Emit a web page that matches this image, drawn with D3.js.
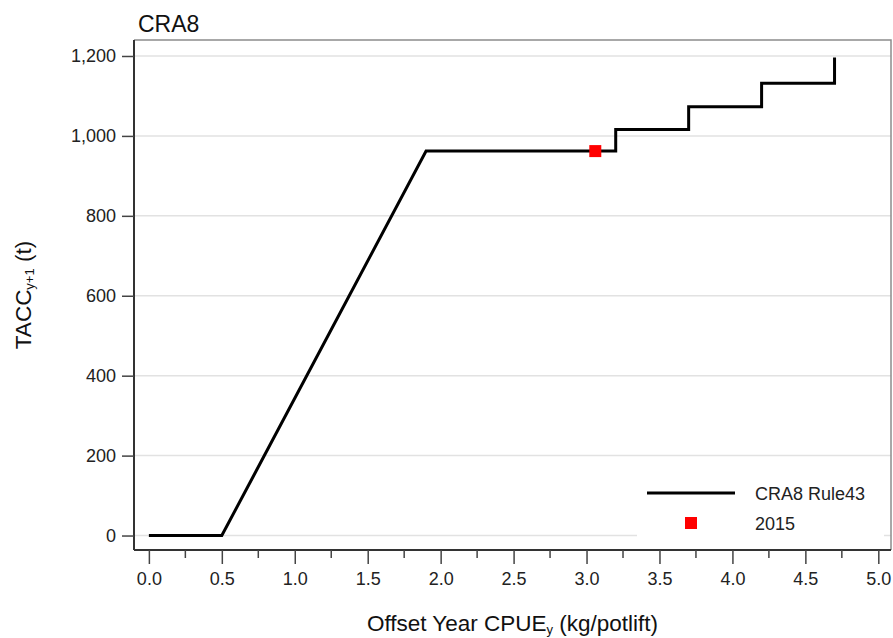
<!DOCTYPE html>
<html>
<head>
<meta charset="utf-8">
<script src="https://cdn.jsdelivr.net/npm/d3@7"></script>
<style>
  html, body { margin: 0; padding: 0; background: #fff; }
  svg { display: block; font-family: "Liberation Sans", Arial, sans-serif; }
</style>
</head>
<body>
<svg id="chart" width="893" height="638"></svg>
<script>
// Harvest control rule: offset-year CPUE -> TACC for the following year
const ruleCpue = [0.0, 0.5, 1.9, 3.2, 3.2, 3.7, 3.7, 4.2, 4.2, 4.7, 4.7];
const ruleTacc = [0, 0, 962, 962, 1016, 1016, 1073, 1073, 1132, 1132, 1196];

// Observed year
const pointLabel = ["2015"];
const pointCpue = [3.06];
const pointTacc = [962];

const xTicks = [0, 0.5, 1, 1.5, 2, 2.5, 3, 3.5, 4, 4.5, 5];
const xMinorTicks = [0.25, 0.75, 1.25, 1.75, 2.25, 2.75, 3.25, 3.75, 4.25, 4.75];
const yTicks = [0, 200, 400, 600, 800, 1000, 1200];

const svg = d3.select("#chart");
const plotL = 134, plotR = 891, plotT = 40, plotB = 550;

const x = d3.scaleLinear().domain([-0.102, 5.087]).range([plotL, plotR]);
const y = d3.scaleLinear().domain([-36.2, 1240]).range([plotB, plotT]);

// Gridlines
svg.append("g")
  .selectAll("line")
  .data(yTicks)
  .join("line")
  .attr("x1", plotL).attr("x2", plotR)
  .attr("y1", d => y(d)).attr("y2", d => y(d))
  .attr("stroke", "#e2e2e2").attr("stroke-width", 1.5);

// Frame: top and right sides
svg.append("path")
  .attr("d", `M${plotL},${plotT}H${plotR}V${plotB}`)
  .attr("fill", "none").attr("stroke", "#8c8c8c").attr("stroke-width", 1.5);

// X axis with major and minor ticks
const xAxis = svg.append("g").attr("transform", `translate(0,${plotB})`)
  .call(d3.axisBottom(x).tickValues(xTicks).tickFormat(d3.format(".1f"))
    .tickSize(14).tickPadding(8));
xAxis.append("g")
  .selectAll("line")
  .data(xMinorTicks)
  .join("line")
  .attr("x1", d => x(d)).attr("x2", d => x(d))
  .attr("y1", 0).attr("y2", 8)
  .attr("stroke", "#444").attr("stroke-width", 1.5);

// Y axis
const yAxis = svg.append("g").attr("transform", `translate(${plotL},0)`)
  .call(d3.axisLeft(y).tickValues(yTicks).tickFormat(d3.format(",d"))
    .tickSize(12).tickPadding(6));

[xAxis, yAxis].forEach(g => {
  g.select(".domain").attr("stroke", "#333").attr("stroke-width", 2);
  g.selectAll(".tick line").attr("stroke", "#444").attr("stroke-width", 1.5);
  g.selectAll(".tick text").attr("fill", "#222").style("font-size", "18px")
    .style("font-family", "Liberation Sans, Arial, sans-serif");
});
xAxis.select(".domain").attr("d", `M${plotL},0H${plotR}`);
yAxis.select(".domain").attr("d", `M0,${plotT}V${plotB}`);

// Rule line
const line = d3.line().x(d => x(d[0])).y(d => y(d[1]));
svg.append("path")
  .datum(ruleCpue.map((c, i) => [c, ruleTacc[i]]))
  .attr("d", line)
  .attr("fill", "none").attr("stroke", "#000").attr("stroke-width", 3)
  .attr("stroke-linejoin", "miter");

// Observed point
const sq = 12;
svg.append("g")
  .selectAll("rect")
  .data(pointCpue)
  .join("rect")
  .attr("x", (d) => x(d) - sq / 2)
  .attr("y", (d, i) => y(pointTacc[i]) - sq / 2)
  .attr("width", sq).attr("height", sq)
  .attr("fill", "#ff0000");

// Legend
const lg = svg.append("g");
lg.append("rect").attr("x", 637).attr("y", 472).attr("width", 247).attr("height", 72)
  .attr("fill", "#fff");
lg.append("line").attr("x1", 647).attr("x2", 735).attr("y1", 493).attr("y2", 493)
  .attr("stroke", "#000").attr("stroke-width", 3);
lg.append("text").attr("x", 755).attr("y", 499.5).text("CRA8 Rule43")
  .style("font-size", "18px").attr("fill", "#222");
lg.append("rect").attr("x", 691 - sq / 2).attr("y", 523 - sq / 2)
  .attr("width", sq).attr("height", sq).attr("fill", "#ff0000");
lg.append("text").attr("x", 755).attr("y", 529.5).text(pointLabel[0])
  .style("font-size", "18px").attr("fill", "#222");

// Title
svg.append("text").attr("x", 138).attr("y", 32).text("CRA8")
  .style("font-size", "23px").attr("fill", "#111");

// Axis titles
const xt = svg.append("text").attr("x", (plotL + plotR) / 2).attr("y", 631)
  .attr("text-anchor", "middle").style("font-size", "22.5px").attr("fill", "#111");
xt.append("tspan").text("Offset Year CPUE");
xt.append("tspan").text("y").style("font-size", "13px").attr("dy", 3);
xt.append("tspan").text(" (kg/potlift)").attr("dy", -3);

const yt = svg.append("text")
  .attr("transform", `translate(31,${(plotT + plotB) / 2}) rotate(-90)`)
  .attr("text-anchor", "middle").style("font-size", "22.5px").attr("fill", "#111");
yt.append("tspan").text("TACC");
yt.append("tspan").text("y+1").style("font-size", "13px").attr("dy", 3);
yt.append("tspan").text(" (t)").attr("dy", -3);
</script>
</body>
</html>
